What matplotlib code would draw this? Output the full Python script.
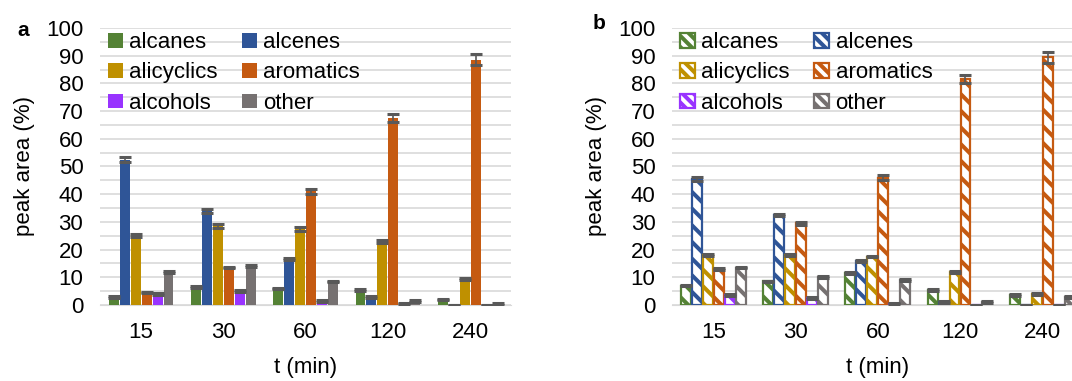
import numpy as np
import matplotlib.pyplot as plt
from matplotlib.patches import Patch

plt.rcParams['font.family'] = ['Liberation Sans', 'DejaVu Sans']
plt.rcParams['hatch.linewidth'] = 2.9

times = ["15", "30", "60", "120", "240"]
groups = ["alcanes", "alcenes", "alicyclics", "aromatics", "alcohols", "other"]
colors = ["#548235", "#2F5597", "#BF9000", "#C55A11", "#9933FF", "#767171"]

# panel a: peak area (%) per group, one list per time
a_vals = [
    [3.0, 52.5, 25.0, 4.5, 4.0, 12.0],
    [6.5, 34.0, 28.5, 13.5, 5.0, 14.0],
    [6.0, 16.5, 27.5, 41.0, 1.5, 8.5],
    [5.5, 3.0, 23.0, 67.5, 0.5, 1.5],
    [2.0, 0.0, 9.5, 88.5, 0.0, 0.3],
]
a_err = [
    [0.3, 1.0, 0.5, 0.3, 0.3, 0.3],
    [0.3, 0.7, 0.7, 0.3, 0.3, 0.3],
    [0.3, 0.3, 0.7, 1.0, 0.3, 0.3],
    [0.3, 0.3, 0.5, 1.3, 0.3, 0.3],
    [0.3, 0.0, 0.3, 2.0, 0.0, 0.3],
]
# panel b
b_vals = [
    [7.0, 45.5, 18.0, 13.0, 3.5, 13.5],
    [8.5, 32.5, 18.0, 29.5, 2.5, 10.0],
    [11.5, 16.0, 17.5, 46.0, 0.5, 9.0],
    [5.5, 1.0, 12.0, 81.5, 0.0, 1.0],
    [3.5, 0.0, 4.0, 89.5, 0.0, 3.0],
]
b_err = [
    [0.3, 0.6, 0.3, 0.3, 0.3, 0.3],
    [0.3, 0.5, 0.3, 0.5, 0.3, 0.3],
    [0.3, 0.3, 0.3, 1.0, 0.3, 0.3],
    [0.3, 0.3, 0.3, 1.5, 0.0, 0.3],
    [0.3, 0.0, 0.3, 2.0, 0.0, 0.3],
]

fig = plt.figure(figsize=(10.72, 3.81), dpi=100)
ax_a = fig.add_axes([0.0933, 0.1995, 0.3836, 0.727])
ax_b = fig.add_axes([0.627, 0.1995, 0.3836, 0.727])

x = np.arange(len(times))
w = 0.8 / len(groups)
fs = 16


def draw(ax, vals, err, hatched):
    vals = np.array(vals)
    err = np.array(err)
    handles = []
    for i, g in enumerate(groups):
        pos = x - 0.4 + w * (i + 0.5)
        if hatched:
            ax.bar(pos, vals[:, i], w * 0.9, color="white", edgecolor=colors[i],
                   hatch="\\\\", linewidth=1.6, zorder=3)
            handles.append(Patch(facecolor="white", edgecolor=colors[i],
                                 hatch="\\\\\\", linewidth=1.6, label=g))
        else:
            ax.bar(pos, vals[:, i], w * 0.9, color=colors[i], zorder=3)
            handles.append(Patch(facecolor=colors[i], label=g))
        ax.errorbar(pos, vals[:, i], yerr=err[:, i], fmt="none", ecolor="#595959",
                    elinewidth=1.2, capsize=4, capthick=2.2, zorder=4)
    ax.set_ylim(0, 100)
    ax.set_xlim(-0.5, len(times) - 0.5)
    ax.set_yticks(range(0, 101, 10))
    ax.set_yticks(range(0, 101, 5), minor=True)
    ax.yaxis.grid(True, which="both", color="#D9D9D9", linewidth=1.2, zorder=0)
    ax.set_axisbelow(True)
    ax.set_xticks(x)
    ax.set_xticklabels(times)
    ax.tick_params(axis="y", length=0, labelsize=fs, pad=12)
    ax.tick_params(axis="x", length=0, labelsize=fs, pad=12)
    ax.tick_params(which="minor", length=0)
    for s in ["top", "right", "left"]:
        ax.spines[s].set_visible(False)
    ax.spines["bottom"].set_color("#D9D9D9")
    ax.set_xlabel("t (min)", fontsize=fs, labelpad=10)
    ax.set_ylabel("peak area (%)", fontsize=fs, labelpad=8)
    # legend fills column-wise; reorder so rows read alcanes/alcenes, ...
    order = [0, 2, 4, 1, 3, 5]
    ax.legend(handles=[handles[k] for k in order], ncol=2, loc="upper left",
              frameon=False, fontsize=fs, handlelength=0.65, handleheight=0.65,
              handletextpad=0.3, columnspacing=1.1, labelspacing=0.42,
              borderaxespad=0.0, borderpad=0.0, bbox_to_anchor=(0.02, 0.985))


draw(ax_a, a_vals, a_err, False)
draw(ax_b, b_vals, b_err, True)

fig.text(0.016, 0.905, "a", fontsize=15, fontweight="bold")
fig.text(0.553, 0.925, "b", fontsize=15, fontweight="bold")

fig.savefig("out.png", dpi=100)
